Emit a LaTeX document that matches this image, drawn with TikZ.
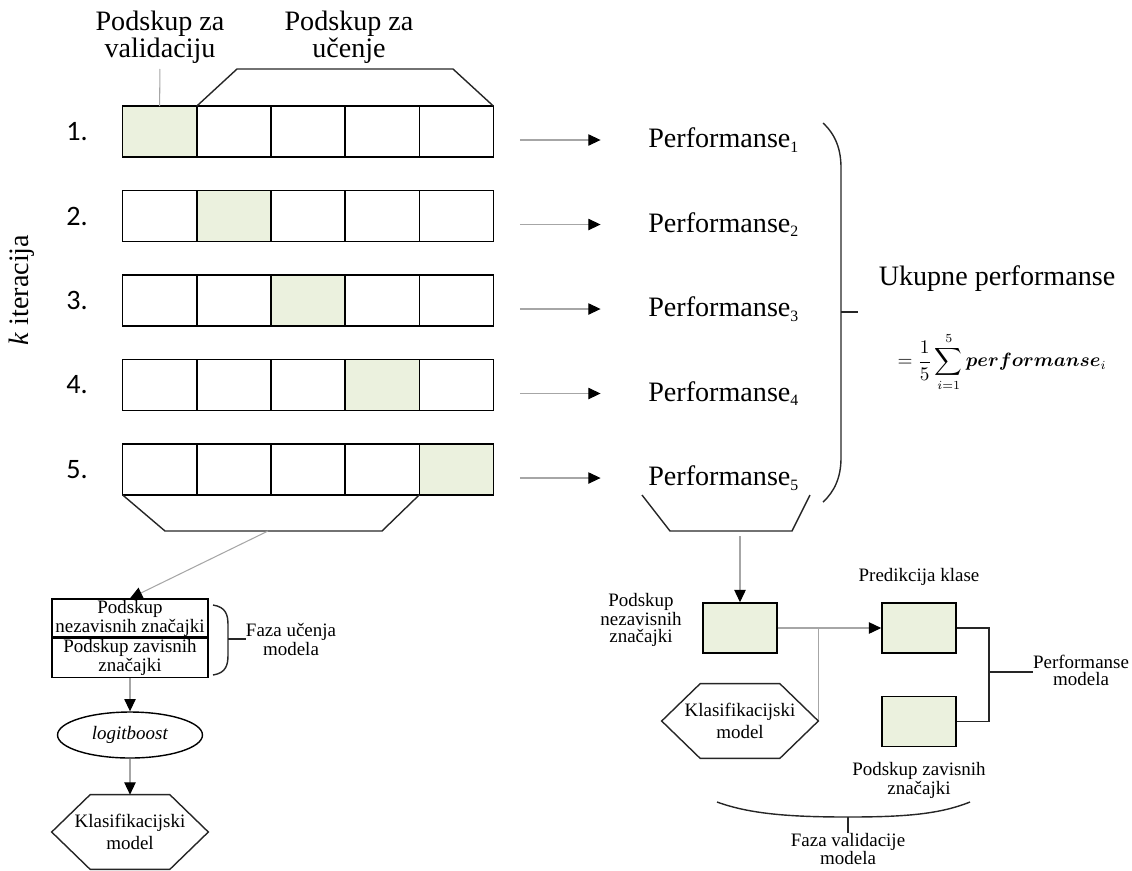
\documentclass[tikz,border=0pt]{standalone}
\usepackage{amsmath}
\usepackage{bm}
\usepackage{fontspec}
\setmainfont{Liberation Serif}
\newfontfamily\numfont{Carlito}
\usetikzlibrary{arrows.meta, shapes.geometric, calc}

\definecolor{valgreen}{RGB}{235,241,222}

\tikzset{
  cell/.style={draw, line width=0.9pt, minimum width=1.484cm, minimum height=1.014cm, inner sep=0pt, outer sep=0pt},
  gbox/.style={draw, line width=0.9pt, fill=valgreen, minimum width=1.48cm, minimum height=1.0cm, inner sep=0pt},
  lbl/.style={font=\fontsize{16}{14.5}\selectfont, align=center, inner sep=0pt},
  numlbl/.style={font=\numfont\fontsize{16}{16}\selectfont, inner sep=0pt},
  smalltxt/.style={font=\fontsize{10.8}{9.6}\selectfont, align=center, inner sep=0pt},
  splitbox/.style={smalltxt, draw, line width=0.8pt, minimum width=3.12cm, inner sep=0.5pt},
  oval/.style={ellipse, draw, line width=0.8pt, minimum width=2.9cm, minimum height=0.92cm, inner sep=0pt, font=\fontsize{10.8}{12}\selectfont},
  hexa/.style={minimum width=3.12cm, minimum height=1.48cm, inner sep=0pt, align=center, font=\fontsize{10.8}{12.5}\selectfont},
  frame/.style={line width=0.8pt, black!85},
  thinline/.style={draw=gray!70, line width=0.6pt},
  arr/.style={thinline, -{Triangle[length=7pt, width=6.5pt, black]}}
}
\newcommand{\perfsub}[1]{\textsubscript{\fontsize{9}{9}\selectfont #1}}

\begin{document}
\begin{tikzpicture}[x=0.02cm, y=-0.02cm]
\useasboundingbox (0,0) rectangle (1132,870);

% Folds, one row per iteration
\foreach \i in {1,...,5} {
  \foreach \j in {1,...,5} {
    \ifnum\i=\j \def\cellfill{valgreen}\else\def\cellfill{white}\fi
    \node[cell, fill=\cellfill] (c\i\j) at ({122.5+74.2*(\j-0.5)}, {131.5+84.5*(\i-1)}) {};
  }
  \node[numlbl] (n\i) at (77, {131.5+84.5*(\i-1)}) {\i.};
  \node[lbl, anchor=west] (p\i) at (648, {140+84.5*(\i-1)}) {Performanse\perfsub{\i}};
  \draw[arr, shorten <=15pt, shorten >=27pt] (c\i5.east |- p\i.west) -- (p\i.west);
}

\node[lbl, rotate=90] (kit) at (22,290) {\textit{k} iteracija};

% Labels on top
\node[lbl] (valtxt) at (160,37) {Podskup za\\validaciju};
\node[lbl] (trntxt) at (349,37) {Podskup za\\učenje};
\draw[thinline, shorten <=3pt] (valtxt.south) -- (c11.north);
\draw[frame] (c12.north west) -- (237,69) -- (453,69) -- (c15.north east);

% Learning phase
\draw[frame] (c51.south west) -- (165,531) -- (382,531) -- (c54.south east);
\coordinate (lrn) at (268,531);
\node[splitbox, minimum height=0.72cm] (ind) at (130,618) {Podskup\\nezavisnih značajki};
\node[splitbox, minimum height=0.78cm, anchor=north] (dep) at (ind.south) {Podskup zavisnih\\značajki};
\draw[arr] (lrn) -- (ind.north);

\draw[frame] (213,605) .. controls (226,607) and (228,615) .. (228,625) -- (228,655) .. controls (228,665) and (226,673) .. (213,675);
\coordinate (lbr) at (228,639);
\node[smalltxt] (fazaL) at (291,639) {Faza učenja\\modela};
\draw[frame] (lbr) -- (fazaL.west);

\node[oval] (logit) at (130,735) {\textit{logitboost}};
\node[hexa] (hexL) at (130,832) {Klasifikacijski\\model};
\draw[arr] (dep.south) -- (logit.north);
\draw[arr] (logit.south) -- (hexL.north);

% Overall performance
\draw[frame] (823,123) .. controls (836,135) and (841,150) .. (841,168) -- (841,458) .. controls (841,478) and (834,492) .. (823,502);
\coordinate (rbr) at (841,312);
\draw[frame] (rbr) -- ++(17,0);
\node[lbl] (total) at (997,279) {Ukupne performanse};
\node[inner sep=0pt, font=\fontsize{10.5}{11}\selectfont] (formula) at (1002,362)
  {$\displaystyle=\frac{1}{5}\sum_{i=1}^{5}\bm{performanse}_{i}$};

% Validation phase
\draw[frame] (642,495) -- (670,531) -- (792,531) -- (810,495);
\coordinate (vtop) at (740,531);
\node[gbox] (vind) at (740,628) {};
\node[gbox] (pred) at (919,628) {};
\node[gbox] (vdep) at (919,721.5) {};
\node[hexa] (hexR) at (740,721) {Klasifikacijski\\model};
\node[smalltxt] (vindlbl) at (641,620) {Podskup\\nezavisnih\\značajki};
\node[smalltxt] (predlbl) at (919,577) {Predikcija klase};
\node[smalltxt] (vdeplbl) at (919,780) {Podskup zavisnih\\značajki};

\draw[arr, shorten <=3pt] (vtop) -- (vind.north);
\draw[arr] (vind.east) -- (pred.west);
\draw[thinline] (hexR.east) -- (hexR.east |- vind.east);

\coordinate (join) at (989,672);
\node[smalltxt] (pm) at (1081,670) {Performanse\\modela};
\draw[frame] (pred.east) -| (join) |- (vdep.east);
\draw[frame] (join) -- (join -| pm.west);

\draw[frame] (717,802) .. controls (750,814) and (790,817) .. (848,817) .. controls (906,817) and (940,814) .. (970,802);
\coordinate (vbr) at (848,817);
\node[smalltxt] (fazaV) at (848,849) {Faza validacije\\modela};
\draw[frame] (vbr) -- (fazaV.north);

% Hexagon outlines
\foreach \h in {hexL,hexR}
  \draw[frame] (\h.west) -- ($(\h.north west)+(38.5,0)$) -- ($(\h.north east)+(-38.5,0)$) -- (\h.east)
    -- ($(\h.south east)+(-38.5,0)$) -- ($(\h.south west)+(38.5,0)$) -- cycle;

\end{tikzpicture}
\end{document}
